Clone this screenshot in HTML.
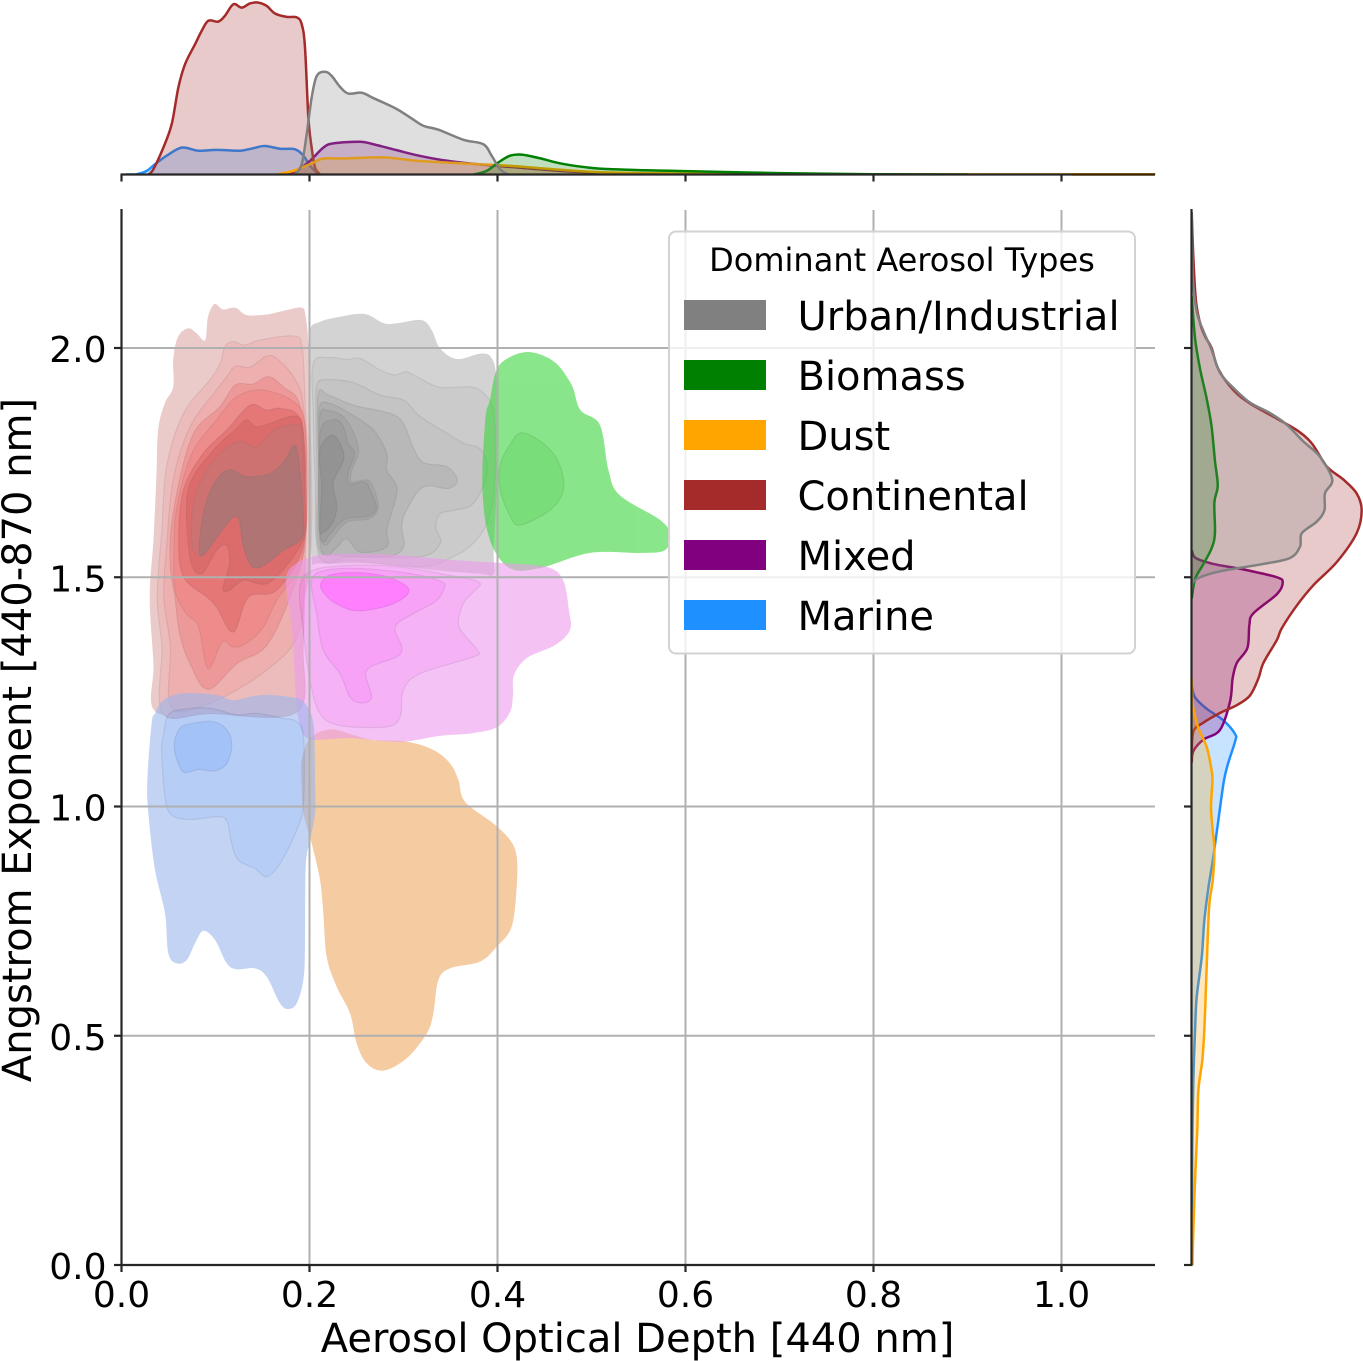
<!DOCTYPE html>
<html>
<head>
<meta charset="utf-8">
<title>Aerosol joint distribution</title>
<style>
html,body{margin:0;padding:0;background:#fff;width:1363px;height:1361px;overflow:hidden}
svg{display:block}
text{font-family:"DejaVu Sans","Liberation Sans",sans-serif;fill:#000}
</style>
</head>
<body>
<svg id="chart" xmlns="http://www.w3.org/2000/svg" width="1363" height="1361" viewBox="0 0 1363 1361">
  <defs>
    <clipPath id="main-clip"><rect x="121.5" y="210" width="1034" height="1055"/></clipPath>
    <clipPath id="top-clip"><rect x="121.5" y="0" width="1034" height="175"/></clipPath>
    <clipPath id="right-clip"><rect x="1191" y="210" width="172" height="1055"/></clipPath>
  </defs>
  <g id="contours" clip-path="url(#main-clip)"></g>
  <g id="grid"></g>
  <g id="top-marginal" clip-path="url(#top-clip)"></g>
  <g id="right-marginal" clip-path="url(#right-clip)"></g>
  <g id="axes"></g>
  <text x="637.5" y="1352" font-size="40" text-anchor="middle">Aerosol Optical Depth [440 nm]</text>
  <text x="0" y="0" font-size="40" text-anchor="middle" transform="translate(31,740) rotate(-90)">Angstrom Exponent [440-870 nm]</text>
  <g>
    <rect x="669" y="231.5" width="466" height="422" rx="7" ry="7" fill="#fff" fill-opacity="0.8" stroke="#d2d2d2" stroke-width="2"/>
    <text x="902" y="271" font-size="32" text-anchor="middle">Dominant Aerosol Types</text>
    <rect x="684" y="300" width="82" height="30" fill="#808080"/>
    <text x="797.5" y="330" font-size="40">Urban/Industrial</text>
    <rect x="684" y="360" width="82" height="30" fill="#008000"/>
    <text x="797.5" y="390" font-size="40">Biomass</text>
    <rect x="684" y="420" width="82" height="30" fill="#ffa500"/>
    <text x="797.5" y="450" font-size="40">Dust</text>
    <rect x="684" y="480" width="82" height="30" fill="#a52a2a"/>
    <text x="797.5" y="510" font-size="40">Continental</text>
    <rect x="684" y="540" width="82" height="30" fill="#800080"/>
    <text x="797.5" y="570" font-size="40">Mixed</text>
    <rect x="684" y="600" width="82" height="30" fill="#1e90ff"/>
    <text x="797.5" y="630" font-size="40">Marine</text>
  </g>
</svg>
<script>
// ---- tick data ----
const xTickValues = [0, 0.2, 0.4, 0.6, 0.8, 1.0];
const xTickLabels = ['0.0', '0.2', '0.4', '0.6', '0.8', '1.0'];
const yTickValues = [0, 0.5, 1.0, 1.5, 2.0];
const yTickLabels = ['0.0', '0.5', '1.0', '1.5', '2.0'];
const categories = ['urban', 'biomass', 'dust', 'continental', 'mixed', 'marine'];

// ---- KDE contour levels: [AOD, AE] points, outermost first ----
const urbanContours = [
 [[.200,2.035],[.211,2.057],[.232,2.068],[.259,2.074],[.279,2.054],[.293,2.054],[.319,2.061],[.330,2.039],[.339,1.999],[.357,1.976],[.383,1.988],[.394,1.977],[.399,1.930],[.401,1.784],[.396,1.566],[.396,1.508],[.381,1.508],[.335,1.515],[.264,1.530],[.211,1.530],[.202,1.545],[.200,1.712],[.199,1.930]],
 [[.204,1.966],[.220,1.979],[.240,1.975],[.254,1.977],[.275,1.952],[.291,1.941],[.303,1.948],[.318,1.933],[.339,1.914],[.371,1.915],[.385,1.901],[.396,1.857],[.397,1.712],[.390,1.625],[.374,1.574],[.353,1.545],[.318,1.523],[.247,1.537],[.211,1.545],[.206,1.712],[.204,1.857]],
 [[.208,1.919],[.218,1.931],[.247,1.924],[.275,1.897],[.300,1.886],[.318,1.850],[.346,1.814],[.364,1.792],[.383,1.777],[.389,1.726],[.374,1.661],[.353,1.646],[.339,1.639],[.334,1.610],[.339,1.574],[.318,1.545],[.247,1.545],[.211,1.545],[.208,1.712],[.207,1.857]],
 [[.209,1.894],[.220,1.897],[.247,1.875],[.286,1.857],[.300,1.835],[.310,1.784],[.321,1.750],[.346,1.741],[.357,1.712],[.348,1.694],[.321,1.697],[.303,1.646],[.298,1.610],[.300,1.566],[.282,1.545],[.229,1.548],[.210,1.566],[.210,1.712]],
 [[.211,1.875],[.222,1.879],[.243,1.857],[.268,1.821],[.282,1.770],[.282,1.734],[.293,1.694],[.287,1.639],[.282,1.603],[.282,1.566],[.254,1.555],[.240,1.584],[.229,1.566],[.218,1.548],[.211,1.581],[.210,1.712],[.210,1.821]],
 [[.211,1.850],[.220,1.863],[.236,1.850],[.247,1.814],[.252,1.774],[.245,1.734],[.245,1.708],[.261,1.712],[.268,1.694],[.273,1.654],[.264,1.628],[.240,1.621],[.225,1.588],[.217,1.570],[.211,1.595],[.210,1.712]],
 [[.212,1.821],[.225,1.843],[.235,1.832],[.241,1.792],[.248,1.770],[.241,1.726],[.243,1.703],[.259,1.707],[.266,1.683],[.271,1.650],[.261,1.633],[.238,1.627],[.222,1.595],[.215,1.577],[.211,1.603],[.210,1.712]],
 [[.211,1.777],[.224,1.810],[.234,1.784],[.236,1.755],[.225,1.705],[.229,1.654],[.224,1.617],[.215,1.599],[.211,1.603],[.213,1.697]]
];
const biomassContours = [
 [[.399,1.952],[.413,1.980],[.435,1.991],[.461,1.969],[.479,1.919],[.488,1.865],[.509,1.832],[.518,1.734],[.530,1.679],[.573,1.625],[.584,1.592],[.578,1.559],[.552,1.553],[.498,1.553],[.445,1.520],[.413,1.520],[.392,1.581],[.384,1.690],[.387,1.843],[.392,1.887]],
 [[.403,1.745],[.413,1.788],[.426,1.815],[.451,1.788],[.466,1.745],[.470,1.690],[.456,1.647],[.424,1.614],[.413,1.636],[.403,1.690]]
];
const dustContours = [
 [[.1917,1.1014],[.2006,1.1487],[.2218,1.1683],[.2467,1.156],[.2679,1.145],[.3034,1.1414],[.3318,1.1232],[.3495,1.094],[.3584,1.058],[.3654,1.0105],[.3956,.963],[.4133,.927],[.4204,.8906],[.4204,.825],[.4151,.738],[.3991,.694],[.3814,.6616],[.3495,.647],[.337,.621],[.3318,.549],[.3247,.505],[.3034,.451],[.2786,.424],[.2608,.440],[.2502,.483],[.2431,.549],[.2289,.607],[.2183,.672],[.2147,.767],[.2112,.8397],[.2023,.9196],[.1935,.985],[.1917,1.043]]
];
const continentalContours = [
 [[.055,1.974],[.060,2.024],[.071,2.043],[.080,2.032],[.089,2.017],[.092,2.068],[.099,2.096],[.108,2.084],[.121,2.088],[.133,2.072],[.154,2.073],[.176,2.083],[.192,2.088],[.196,2.068],[.199,2.003],[.201,1.857],[.203,1.675],[.201,1.530],[.193,1.421],[.190,1.276],[.186,1.210],[.158,1.203],[.094,1.203],[.036,1.207],[.034,1.312],[.030,1.457],[.034,1.581],[.037,1.712],[.039,1.821],[.046,1.879],[.055,1.915]],
 [[.110,2.003],[.119,2.014],[.131,2.006],[.147,2.017],[.183,2.026],[.192,2.003],[.195,1.894],[.198,1.712],[.195,1.530],[.193,1.348],[.186,1.206],[.094,1.203],[.044,1.203],[.043,1.348],[.038,1.457],[.043,1.603],[.048,1.741],[.066,1.857],[.094,1.930],[.105,1.966]],
 [[.121,1.960],[.137,1.958],[.154,1.982],[.165,1.977],[.183,1.937],[.193,1.879],[.197,1.712],[.195,1.530],[.188,1.377],[.154,1.297],[.094,1.225],[.053,1.217],[.052,1.348],[.045,1.457],[.048,1.566],[.055,1.712],[.073,1.828],[.101,1.908],[.112,1.937]],
 [[.121,1.919],[.140,1.921],[.156,1.937],[.172,1.915],[.190,1.872],[.196,1.712],[.193,1.566],[.186,1.494],[.156,1.356],[.123,1.312],[.092,1.256],[.073,1.312],[.062,1.377],[.057,1.457],[.052,1.530],[.055,1.639],[.075,1.806],[.105,1.872]],
 [[.123,1.894],[.151,1.908],[.183,1.883],[.195,1.835],[.196,1.697],[.192,1.537],[.165,1.450],[.151,1.392],[.133,1.356],[.119,1.348],[.107,1.359],[.092,1.301],[.082,1.392],[.069,1.421],[.057,1.472],[.056,1.566],[.059,1.654],[.075,1.770],[.101,1.843]],
 [[.137,1.875],[.154,1.864],[.169,1.868],[.190,1.843],[.196,1.712],[.193,1.566],[.165,1.472],[.135,1.457],[.119,1.381],[.101,1.436],[.091,1.457],[.066,1.501],[.061,1.581],[.066,1.690],[.087,1.770],[.112,1.821]],
 [[.133,1.843],[.146,1.828],[.183,1.851],[.193,1.821],[.195,1.675],[.193,1.581],[.158,1.490],[.130,1.494],[.115,1.472],[.108,1.476],[.115,1.530],[.112,1.570],[.101,1.559],[.085,1.508],[.073,1.544],[.071,1.690],[.098,1.777],[.121,1.821]],
 [[.124,1.795],[.144,1.784],[.162,1.821],[.183,1.832],[.192,1.814],[.193,1.675],[.192,1.588],[.172,1.559],[.151,1.526],[.139,1.524],[.130,1.566],[.123,1.632],[.112,1.625],[.087,1.548],[.075,1.574],[.078,1.675],[.098,1.755]],
 [[.115,1.734],[.133,1.719],[.158,1.726],[.174,1.755],[.183,1.787],[.188,1.763],[.193,1.639],[.192,1.588],[.172,1.559],[.151,1.526],[.139,1.524],[.130,1.566],[.126,1.625],[.121,1.633],[.112,1.617],[.087,1.550],[.083,1.574],[.089,1.654],[.101,1.712]]
];
const mixedContours = [
 [[.175,1.494],[.1867,1.531],[.2112,1.5485],[.2463,1.551],[.293,1.5485],[.3527,1.5376],[.4059,1.531],[.4527,1.5224],[.4697,1.494],[.476,1.4286],[.4771,1.385],[.4612,1.352],[.4314,1.324],[.4176,1.2868],[.4165,1.243],[.4133,1.206],[.3995,1.173],[.3739,1.16],[.3388,1.154],[.2963,1.141],[.2431,1.149],[.2005,1.147],[.1899,1.178],[.1856,1.239],[.1814,1.385]],
 [[.1899,1.479],[.2041,1.5155],[.2466,1.526],[.2927,1.523],[.3388,1.508],[.3796,1.49],[.3743,1.468],[.3636,1.443],[.359,1.392],[.3785,1.341],[.3743,1.3265],[.3175,1.29],[.2998,1.254],[.2963,1.196],[.2821,1.174],[.2324,1.177],[.2112,1.203],[.2005,1.276],[.1934,1.385]],
 [[.2023,1.4937],[.2183,1.5155],[.2537,1.519],[.3069,1.508],[.3406,1.49],[.3424,1.472],[.3335,1.4464],[.3105,1.421],[.291,1.392],[.298,1.348],[.2927,1.3265],[.2608,1.297],[.2661,1.239],[.2555,1.226],[.2431,1.239],[.2324,1.29],[.2147,1.341],[.2076,1.421]],
 [[.2122,1.4864],[.2218,1.5046],[.2502,1.5097],[.2821,1.501],[.3051,1.4755],[.2963,1.45],[.2714,1.432],[.2466,1.428],[.2254,1.4464],[.2147,1.468]]
];
const marineContours = [
 [[.0357,1.203],[.0445,1.232],[.0658,1.247],[.1013,1.243],[.119,1.232],[.1474,1.243],[.1757,1.2396],[.1935,1.2286],[.2041,1.1814],[.2059,1.0578],[.2059,.985],[.2006,.927],[.196,.8688],[.1952,.6943],[.1935,.6216],[.1864,.5707],[.1775,.5583],[.1686,.5707],[.1544,.6289],[.142,.647],[.1225,.645],[.1119,.658],[.0995,.709],[.0871,.729],[.0782,.7016],[.0693,.665],[.0587,.658],[.0498,.68],[.0463,.767],[.0357,.8615],[.0286,.985],[.0275,1.058],[.0321,1.1814]],
 [[.0445,1.1523],[.0498,1.1996],[.0658,1.212],[.0942,1.214],[.1225,1.1996],[.1438,1.203],[.1722,1.192],[.1864,1.185],[.1935,1.152],[.1935,1.007],[.1864,.9487],[.1686,.876],[.1544,.847],[.142,.865],[.1243,.883],[.1172,.9197],[.1126,.967],[.103,.978],[.0729,.972],[.0534,.9815],[.0463,1.0215],[.0428,1.123]],
 [[.0562,1.134],[.0623,1.1705],[.0764,1.1814],[.0977,1.185],[.1119,1.167],[.1172,1.134],[.1119,1.094],[.0995,1.078],[.0818,1.081],[.0676,1.074],[.0605,1.094]]
];

// ---- top marginal KDE (AOD grid, density) ----
const urbanAod = [.1846,.1917,.1970,.2023,.2077,.2165,.2236,.2325,.2413,.2555,.2679,.2910,.3070,.3211,.3371,.3637,.3850,.3938,.4027,.4116];
const urbanAodDensity = [0,.37,1.44,2.75,3.52,3.67,3.52,3.13,2.89,2.92,2.73,2.37,2.04,1.74,1.60,1.24,1.08,.67,.19,0];
const biomassAod = [.3743,.3885,.4009,.4133,.4257,.4452,.4665,.4913,.5197,.6,.7,.8,.9];
const biomassAodDensity = [0,.13,.43,.67,.71,.58,.40,.27,.19,.12,.05,.01,0];
const dustAod = [.1651,.1828,.2006,.2147,.2360,.2786,.3140,.3601,.4133,.4665,.5197,.62,.75,1.1];
const dustAodDensity = [0,.13,.37,.57,.57,.61,.49,.40,.31,.17,.07,.03,.01,.005];
const continentalAod = [.0286,.0339,.0445,.0534,.0605,.0676,.0782,.0853,.0924,.1030,.1101,.1190,.1279,.1367,.1456,.1545,.1633,.1757,.1864,.1917,.1952,.1988,.2023,.2059,.2112];
const continentalAodDensity = [0,.19,.96,1.80,3.11,3.94,4.65,5.13,5.49,5.46,5.67,6.08,5.96,6.11,6.14,6.02,5.75,5.63,5.61,5.37,4.54,2.04,.96,.25,0];
const mixedAod = [.1722,.1864,.2006,.2147,.2254,.2537,.2679,.2927,.3140,.3424,.3779,.4133,.4665,.5197,.65];
const mixedAodDensity = [0,.13,.49,.96,1.11,1.17,1.08,.87,.69,.51,.37,.27,.13,.05,0];
const marineAod = [.005,.0162,.0268,.0357,.0481,.0640,.0818,.1013,.1261,.1403,.1527,.1687,.1846,.1935,.2006,.2094];
const marineAodDensity = [0,.01,.13,.37,.67,.96,.85,.88,.85,.94,1.02,.92,.90,.67,.31,0];

// ---- right marginal KDE (AE grid, density) ----
const urbanAe = [2.296,2.154,2.079,2.037,1.996,1.946,1.913,1.881,1.858,1.833,1.796,1.763,1.713,1.683,1.646,1.621,1.596,1.567,1.542,1.529,1.513,1.5,1.488,1.471];
const urbanAeDensity = [0,.04,.18,.42,.71,1.01,1.49,2.08,2.80,3.39,3.99,4.58,5.02,4.76,4.74,4.46,3.93,3.87,3.51,2.56,1.01,.30,.04,0];
const biomassAe = [2.113,2.021,1.954,1.888,1.829,1.754,1.700,1.663,1.596,1.563,1.529,1.496,1.454];
const biomassAeDensity = [0,.12,.30,.54,.71,.83,.93,.81,.83,.71,.42,.12,0];
const dustAe = [1.279,1.221,1.171,1.129,1.079,1.056,.998,.947,.904,.838,.788,.693,.607,.512,.447,.382,.295,.186,.04,0];
const dustAeDensity = [0,.04,.24,.54,.71,.74,.69,.75,.81,.75,.63,.56,.51,.45,.38,.24,.20,.12,.04,.03];
const continentalAe = [2.296,2.196,2.104,2.054,2.025,2.0,1.954,1.908,1.879,1.846,1.821,1.792,1.742,1.713,1.683,1.646,1.596,1.533,1.483,1.438,1.388,1.363,1.313,1.279,1.242,1.221,1.204,1.183,1.163,1.104];
const continentalAeDensity = [0,.06,.15,.30,.48,.71,.95,1.49,2.08,3.04,3.75,4.29,4.82,5.42,5.89,6.07,5.89,5.18,4.35,3.75,3.21,3.04,2.56,2.38,2.08,1.61,1.01,.42,.06,0];
const mixedAe = [1.558,1.542,1.529,1.517,1.5,1.488,1.463,1.421,1.396,1.346,1.313,1.279,1.229,1.167,1.146,1.121,1.096];
const mixedAeDensity = [.01,.14,.77,1.85,3.04,3.25,3.04,2.20,2.06,1.99,1.61,1.46,1.37,1.01,.42,.06,0];
const marineAe = [1.263,1.238,1.213,1.188,1.158,1.142,1.096,1.056,.969,.889,.824,.751,.672,.585,.512,.404,.259,0];
const marineAeDensity = [0,.12,.54,1.13,1.55,1.55,1.31,1.15,.95,.77,.60,.45,.36,.18,.12,.06,.02,0];

// ---- styles (separate from data) ----
const lineColors = {urban:'#808080', biomass:'#008000', dust:'#ffa500', continental:'#a52a2a', mixed:'#800080', marine:'#1e90ff'};
const levelColors = {
  urban:['#d3d3d3','#cccccc','#c4c4c4','#b9b9b9','#afafaf','#a6a6a6','#9e9e9e','#949494'],
  biomass:['#8ae68a','#7ade7a'],
  dust:['#f5cba2'],
  continental:['#ebcbcb','#edbdbd','#eeb0b0','#ef9a9a','#ef8d8d','#e57878','#dc6c6c','#cf7272','#b17575'],
  mixed:['#f4c3f4','#f6b4f6','#f8a2f8','#ff80ff'],
  marine:['#c3d3f4','#b7cdf6','#a4c3f9']
};
const contourSets = {urban:urbanContours, biomass:biomassContours, dust:dustContours, continental:continentalContours, mixed:mixedContours, marine:marineContours};
const aodSets = {urban:[urbanAod,urbanAodDensity], biomass:[biomassAod,biomassAodDensity], dust:[dustAod,dustAodDensity], continental:[continentalAod,continentalAodDensity], mixed:[mixedAod,mixedAodDensity], marine:[marineAod,marineAodDensity]};
const aeSets = {urban:[urbanAe,urbanAeDensity], biomass:[biomassAe,biomassAeDensity], dust:[dustAe,dustAeDensity], continental:[continentalAe,continentalAeDensity], mixed:[mixedAe,mixedAeDensity], marine:[marineAe,marineAeDensity]};

// ---- axis functions ----
const NS = 'http://www.w3.org/2000/svg';
const sx = v => 121.5 + 940 * v;
const sy = v => 1265 - 458.5 * v;
const dTop = d => 174.5 - 28 * d;
const dRight = d => 1191.7 + 28 * d;
const ALPHA = 0.6;
const MARGINAL_STROKE = 2.5;

function make(tag, parent, attrs) {
  const e = document.createElementNS(NS, tag);
  for (const k in attrs) e.setAttribute(k, attrs[k]);
  parent.appendChild(e);
  return e;
}
function unblend(hex, factor) {
  const out = [1, 3, 5].map(i => {
    const t = parseInt(hex.substr(i, 2), 16);
    const c = (t - (1 - ALPHA) * 255) / ALPHA * factor;
    return Math.max(0, Math.min(255, Math.round(c)));
  });
  return 'rgb(' + out.join(',') + ')';
}
function smoothPath(p, closed) {
  const n = p.length;
  const at = i => closed ? p[(i + n) % n] : p[Math.max(0, Math.min(n - 1, i))];
  let s = 'M' + p[0][0].toFixed(2) + ' ' + p[0][1].toFixed(2);
  const last = closed ? n : n - 1;
  for (let i = 0; i < last; i++) {
    const a = at(i - 1), b = at(i), c = at(i + 1), d = at(i + 2);
    s += 'C' + (b[0] + (c[0] - a[0]) / 6).toFixed(2) + ' ' + (b[1] + (c[1] - a[1]) / 6).toFixed(2) + ' ' +
         (c[0] - (d[0] - b[0]) / 6).toFixed(2) + ' ' + (c[1] - (d[1] - b[1]) / 6).toFixed(2) + ' ' +
         c[0].toFixed(2) + ' ' + c[1].toFixed(2);
  }
  return closed ? s + 'Z' : s;
}

// ---- contours ----
const contoursLayer = document.getElementById('contours');
categories.forEach(cat => {
  const g = make('g', contoursLayer, {opacity: ALPHA});
  
  
  contourSets[cat].forEach((level, i) => {
    const pts = level.map(q => [sx(q[0]), sy(q[1])]);
    const base = levelColors[cat][i];
    const path = make('path', g, {d: smoothPath(pts, true), fill: unblend(base, 1)});
    if (i > 0) {
      path.setAttribute('stroke', unblend(base, 0.88));
      path.setAttribute('stroke-width', '1.2');
    }
    
    
  });
});

// ---- marginals (seaborn draws hue levels last-to-first) ----
const topLayer = document.getElementById('top-marginal');
const rightLayer = document.getElementById('right-marginal');
categories.slice().reverse().forEach(cat => {
  const aod = aodSets[cat];
  const topPts = aod[0].map((v, i) => [sx(v), dTop(aod[1][i])]);
  const topLine = smoothPath(topPts, false);
  const topFill = make('path', topLayer, {
    d: topLine + 'L' + topPts[topPts.length - 1][0].toFixed(2) + ' ' + dTop(0) + 'L' + topPts[0][0].toFixed(2) + ' ' + dTop(0) + 'Z',
    fill: lineColors[cat], 'fill-opacity': 0.25, stroke: 'none'
  });
  
  
  const topStroke = make('path', topLayer, {d: topLine, fill: 'none', stroke: lineColors[cat], 'stroke-width': MARGINAL_STROKE});
  
  

  const ae = aeSets[cat];
  const rightPts = ae[0].map((v, i) => [dRight(ae[1][i]), sy(v)]);
  const rightLine = smoothPath(rightPts, false);
  const rightFill = make('path', rightLayer, {
    d: rightLine + 'L' + dRight(0) + ' ' + rightPts[rightPts.length - 1][1].toFixed(2) + 'L' + dRight(0) + ' ' + rightPts[0][1].toFixed(2) + 'Z',
    fill: lineColors[cat], 'fill-opacity': 0.25, stroke: 'none'
  });
  
  
  const rightStroke = make('path', rightLayer, {d: rightLine, fill: 'none', stroke: lineColors[cat], 'stroke-width': MARGINAL_STROKE});
  
  
});

// ---- grid ----
const gridLayer = document.getElementById('grid');
xTickValues.forEach(v => {
  const l = make('line', gridLayer, {x1: sx(v), x2: sx(v), y1: 210, y2: 1265, stroke: '#b0b0b0', 'stroke-width': 2});
  
  
});
yTickValues.forEach(v => {
  const l = make('line', gridLayer, {x1: 121.5, x2: 1155, y1: sy(v), y2: sy(v), stroke: '#b0b0b0', 'stroke-width': 2});
  
  
});

// ---- axes ----
const axesLayer = document.getElementById('axes');
const INK = '#262626';
function spine(x1, y1, x2, y2, name, color) {
  const l = make('line', axesLayer, {x1: x1, y1: y1, x2: x2, y2: y2, stroke: color || INK, 'stroke-width': 2.2});
  
  
}
spine(121.5, 209, 121.5, 1266, 'main-y-spine');
spine(120.5, 1265, 1155, 1265, 'main-x-spine');
spine(120.5, 174.5, 1155, 174.5, 'top-marginal-spine');
spine(sx(1.0) + 11, 174.5, 1155, 174.5, 'top-marginal-spine-tinted-tail', '#3d2800');
spine(1191.5, 209, 1191.5, 1266, 'right-marginal-spine');
xTickValues.forEach((v, i) => {
  spine(sx(v), 1265, sx(v), 1272, 'x-tick');
  spine(sx(v), 174.5, sx(v), 181.5, 'top-marginal-tick');
  const t = make('text', axesLayer, {x: sx(v), y: 1307, 'font-size': 36, 'text-anchor': 'middle'});
  t.textContent = xTickLabels[i];
  
  
});
yTickValues.forEach((v, i) => {
  spine(121.5, sy(v), 114, sy(v), 'y-tick');
  spine(1191.5, sy(v), 1184, sy(v), 'right-marginal-tick');
  const t = make('text', axesLayer, {x: 106.5, y: sy(v) + 14, 'font-size': 36, 'text-anchor': 'end'});
  t.textContent = yTickLabels[i];
  
  
});
</script>
</body>
</html>
